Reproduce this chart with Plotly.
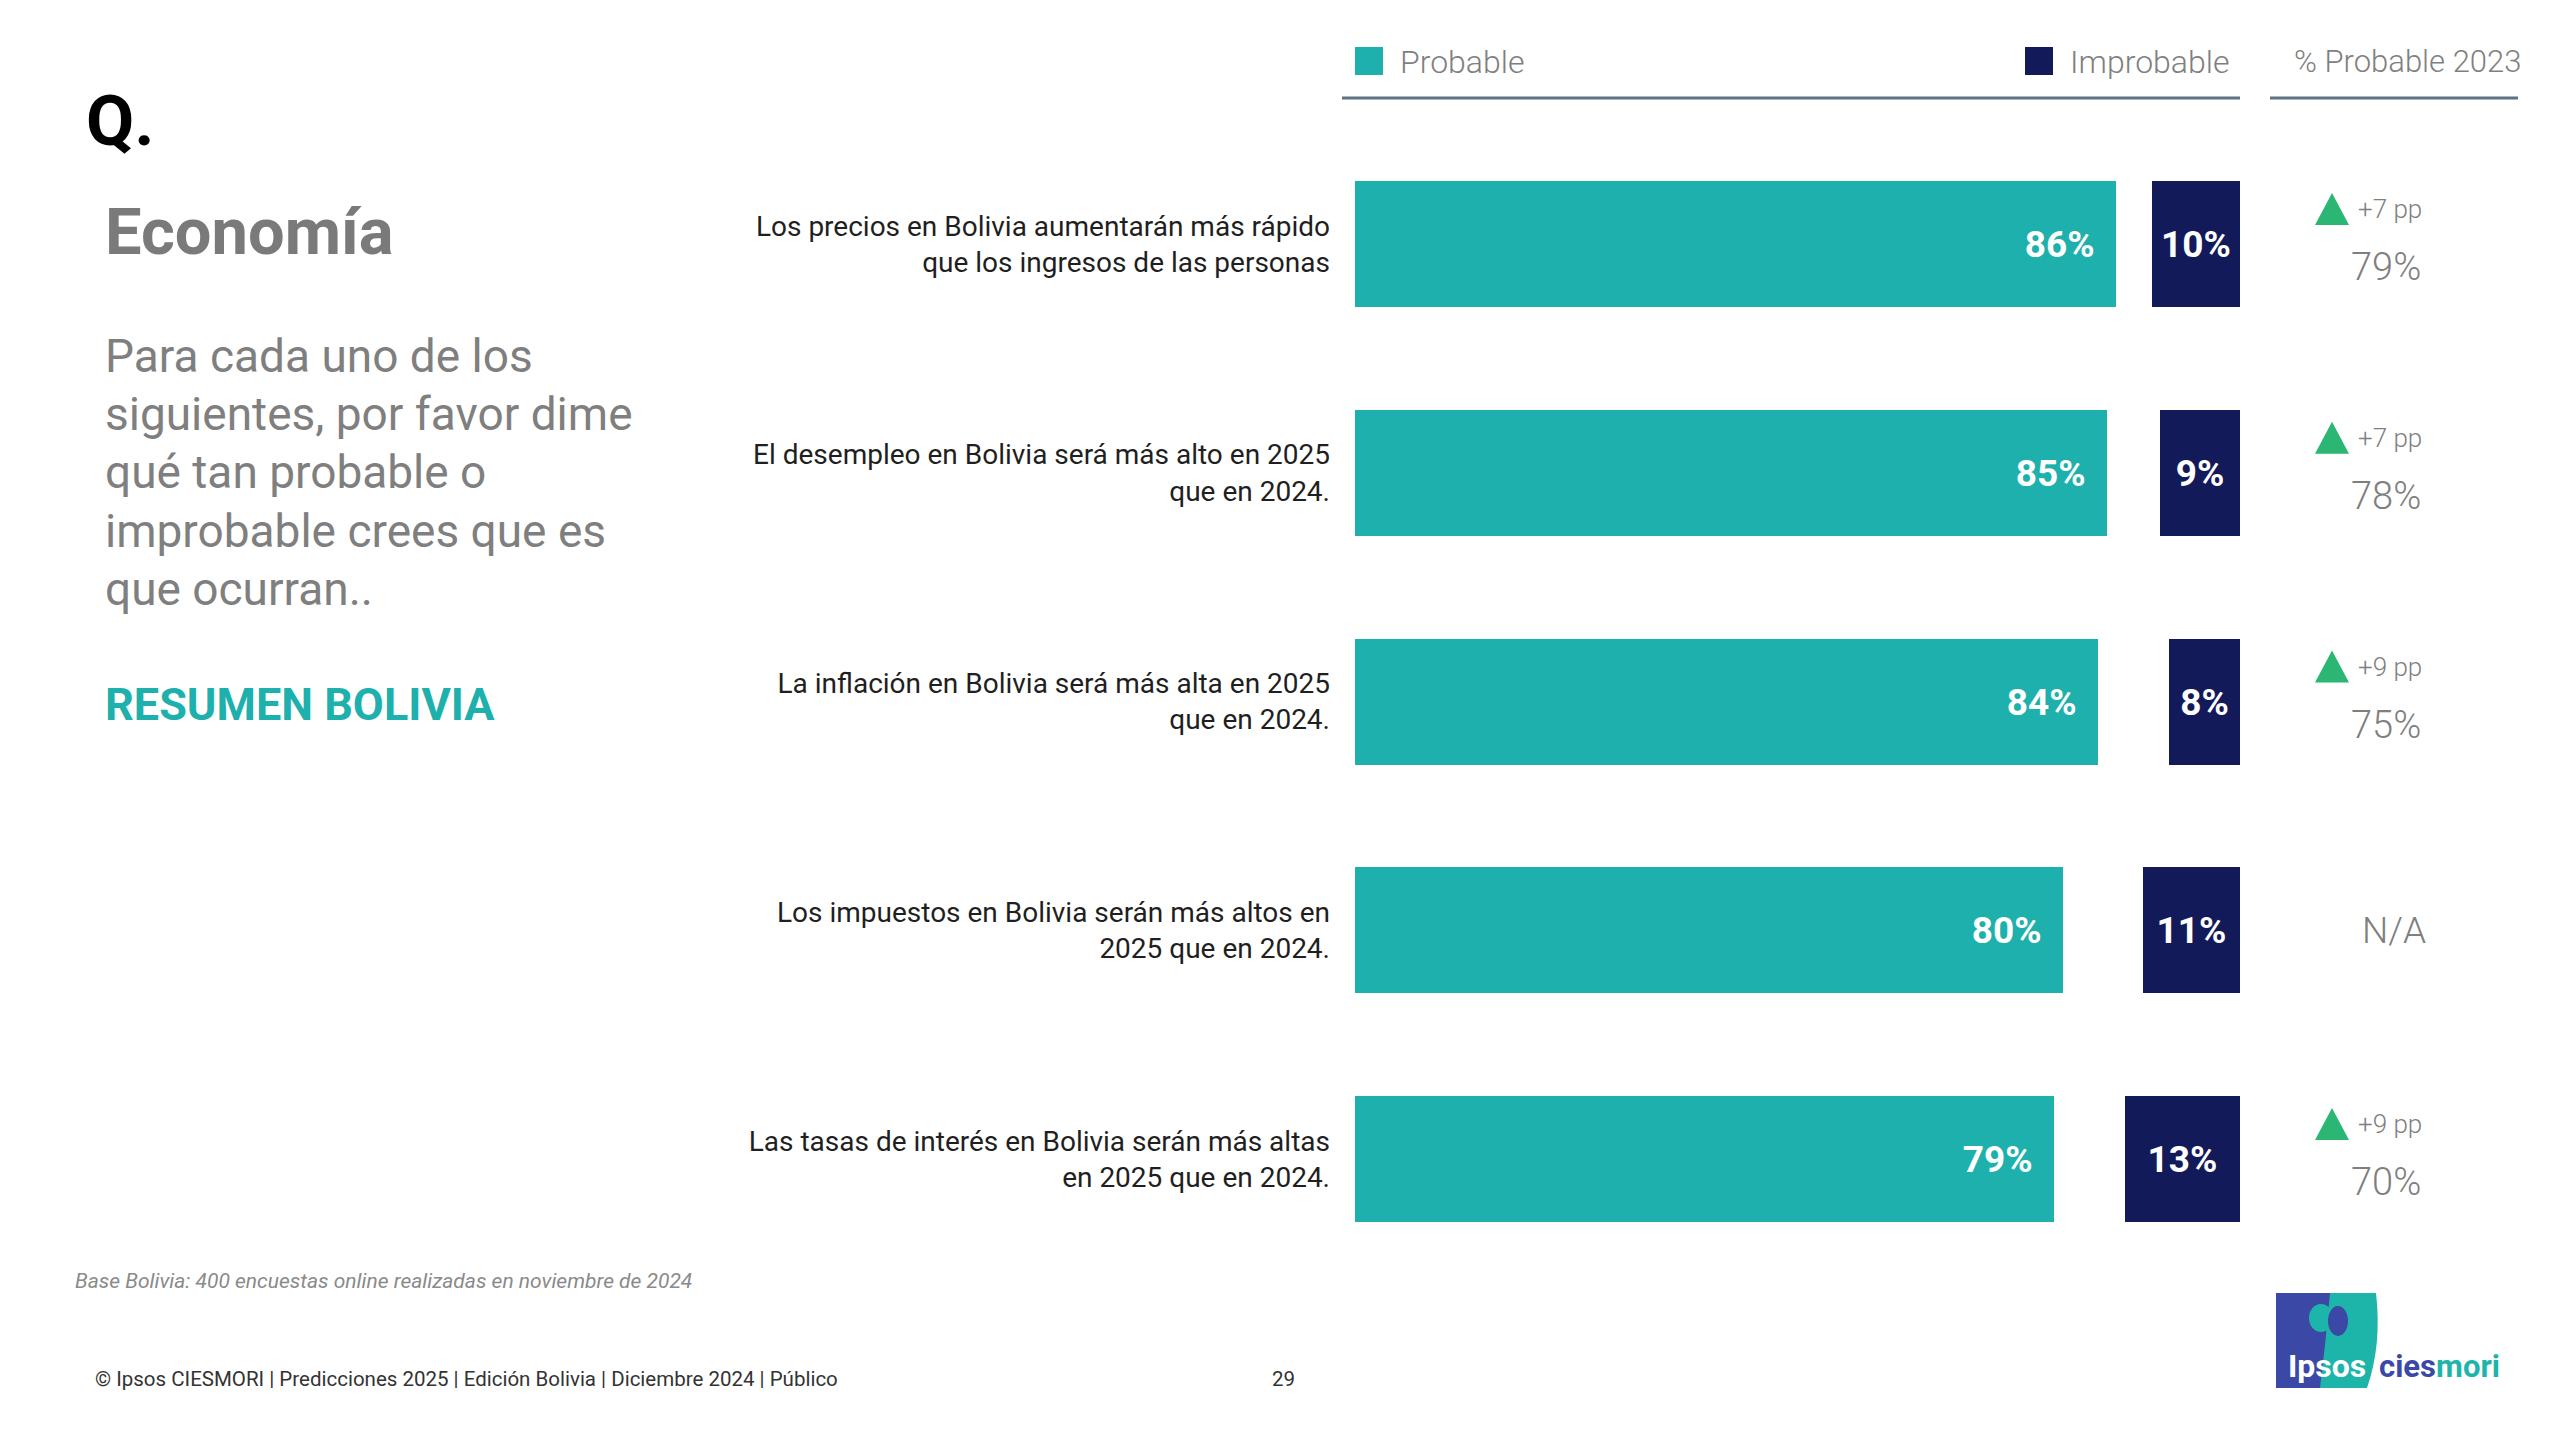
import plotly.graph_objects as go

W, H = 2560, 1440
OFF = 8  # page body margin offset compensation

categories = [
    "Los precios en Bolivia aumentarán más rápido<br>que los ingresos de las personas",
    "El desempleo en Bolivia será más alto en 2025<br>que en 2024.",
    "La inflación en Bolivia será más alta en 2025<br>que en 2024.",
    "Los impuestos en Bolivia serán más altos en<br>2025 que en 2024.",
    "Las tasas de interés en Bolivia serán más altas<br>en 2025 que en 2024.",
]
probable = [86, 85, 84, 80, 79]
improbable = [10, 9, 8, 11, 13]
probable_2023 = ["79%", "78%", "75%", "N/A", "70%"]
change_pp = ["+7 pp", "+7 pp", "+9 pp", None, "+9 pp"]

TEAL = "#1eb0ac"
NAVY = "#131a5a"
GREEN = "#2bb673"
GREY = "#7f7f7f"
FONT = "Roboto"

def px(x):
    return (x - OFF) / W

def py(y):
    return 1 - (y - OFF) / H

idx = list(range(len(categories)))
row0, step = 244 - OFF, 228.75
yrange = [(H - row0) / step, -row0 / step]
bar_w = 126 / step

fig = go.Figure()
fig.add_trace(go.Bar(
    y=idx, x=probable, base=0, orientation="h", width=bar_w,
    marker=dict(color=TEAL, line=dict(width=0)),
    text=[f"<b>{v}%</b>\u00a0\u00a0" for v in probable],
    textposition="inside", insidetextanchor="end", textangle=0,
    textfont=dict(family=FONT, size=37, color="white"),
    constraintext="none", name="Probable", showlegend=False,
))
fig.add_trace(go.Bar(
    y=idx, x=improbable, base=[100 - v for v in improbable], orientation="h", width=bar_w,
    marker=dict(color=NAVY, line=dict(width=0)),
    text=[f"<b>{v}%</b>" for v in improbable],
    textposition="inside", insidetextanchor="middle", textangle=0,
    textfont=dict(family=FONT, size=37, color="white"),
    constraintext="none", name="Improbable", showlegend=False,
))

ann = []
shapes = []

# Left panel text
ann.append(dict(x=px(84), y=py(121), xref="paper", yref="paper", text="<b>Q.</b>",
                showarrow=False, xanchor="left", yanchor="middle",
                font=dict(family=FONT, size=70, color="#000000")))
ann.append(dict(x=px(103), y=py(232), xref="paper", yref="paper", text="<b>Economía</b>",
                showarrow=False, xanchor="left", yanchor="middle",
                font=dict(family=FONT, size=65, color="#7a7a7a")))
para = ["Para cada uno de los", "siguientes, por favor dime", "qué tan probable o",
        "improbable crees que es", "que ocurran.."]
for k, line in enumerate(para):
    ann.append(dict(x=px(103), y=py(356 + k * 58.2), xref="paper", yref="paper", text=line,
                    showarrow=False, xanchor="left", yanchor="middle",
                    font=dict(family=FONT, size=46, color=GREY)))
ann.append(dict(x=px(103), y=py(704), xref="paper", yref="paper", text="<b>RESUMEN BOLIVIA</b>",
                showarrow=False, xanchor="left", yanchor="middle",
                font=dict(family=FONT, size=45, color=TEAL)))

# Legend header
shapes.append(dict(type="rect", xref="paper", yref="paper", x0=px(1355), x1=px(1383),
                   y0=py(75), y1=py(47), fillcolor=TEAL, line=dict(width=0)))
ann.append(dict(x=px(1398), y=py(62), xref="paper", yref="paper", text="Probable",
                showarrow=False, xanchor="left", yanchor="middle",
                font=dict(family=FONT, size=32, color=GREY, weight=300)))
shapes.append(dict(type="rect", xref="paper", yref="paper", x0=px(2025), x1=px(2053),
                   y0=py(75), y1=py(47), fillcolor=NAVY, line=dict(width=0)))
ann.append(dict(x=px(2068), y=py(62), xref="paper", yref="paper", text="Improbable",
                showarrow=False, xanchor="left", yanchor="middle",
                font=dict(family=FONT, size=32, color=GREY, weight=300)))
ann.append(dict(x=px(2292), y=py(62), xref="paper", yref="paper", text="% Probable 2023",
                showarrow=False, xanchor="left", yanchor="middle",
                font=dict(family=FONT, size=31, color=GREY, weight=300)))
for x0, x1 in [(1342, 2240), (2270, 2518)]:
    shapes.append(dict(type="line", xref="paper", yref="paper", x0=px(x0), x1=px(x1),
                       y0=py(98), y1=py(98), line=dict(color="#5d7283", width=3)))

# Right column: 2023 comparison
for i, (val, ch) in enumerate(zip(probable_2023, change_pp)):
    if ch is None:
        ann.append(dict(x=px(2394), y=i, xref="paper", yref="y", text=val,
                        showarrow=False, xanchor="center", yanchor="middle",
                        font=dict(family=FONT, size=37, color=GREY, weight=300)))
        continue
    shapes.append(dict(type="path", xref="paper", yref="y",
                       xsizemode="pixel", ysizemode="pixel",
                       xanchor=px(2332), yanchor=i - 35 / step,
                       path="M-17,-16 L17,-16 L0,16 Z",
                       fillcolor=GREEN, line=dict(width=0)))
    ann.append(dict(x=px(2356), y=i - 35 / step, xref="paper", yref="y", text=ch,
                    showarrow=False, xanchor="left", yanchor="middle",
                    font=dict(family=FONT, size=26, color=GREY, weight=300)))
    ann.append(dict(x=px(2386), y=i + 23 / step, xref="paper", yref="y", text=val,
                    showarrow=False, xanchor="center", yanchor="middle",
                    font=dict(family=FONT, size=38, color=GREY, weight=300)))

# Footer
ann.append(dict(x=px(73), y=py(1281), xref="paper", yref="paper",
                text="<i>Base Bolivia: 400 encuestas online realizadas en noviembre de 2024</i>",
                showarrow=False, xanchor="left", yanchor="middle",
                font=dict(family=FONT, size=21, color="#8a8a8a")))
ann.append(dict(x=px(93), y=py(1379), xref="paper", yref="paper",
                text="© Ipsos CIESMORI | Predicciones 2025 | Edición Bolivia | Diciembre 2024 | Público",
                showarrow=False, xanchor="left", yanchor="middle",
                font=dict(family=FONT, size=20.5, color="#333333")))
ann.append(dict(x=px(1283), y=py(1379), xref="paper", yref="paper", text="29",
                showarrow=False, xanchor="center", yanchor="middle",
                font=dict(family=FONT, size=20.5, color="#333333")))

# Logo
LBLUE = "#3b48a6"
LTEAL = "#1db5a9"
shapes.append(dict(type="rect", xref="paper", yref="paper", x0=px(2276), x1=px(2332),
                   y0=py(1388), y1=py(1293), fillcolor=LBLUE, line=dict(width=0)))
teal_path = (f"M{px(2330)},{py(1293)} L{px(2376)},{py(1293)} "
             f"Q{px(2382)},{py(1345)} {px(2367)},{py(1388)} "
             f"L{px(2320)},{py(1388)} Q{px(2326)},{py(1340)} {px(2330)},{py(1293)} Z")
shapes.append(dict(type="path", xref="paper", yref="paper", path=teal_path,
                   fillcolor=LTEAL, line=dict(width=0)))
shapes.append(dict(type="circle", xref="paper", yref="paper", x0=px(2309), x1=px(2333),
                   y0=py(1332), y1=py(1304), fillcolor=LTEAL, line=dict(width=0)))
shapes.append(dict(type="circle", xref="paper", yref="paper", x0=px(2328), x1=px(2348),
                   y0=py(1336), y1=py(1306), fillcolor=LBLUE, line=dict(width=0)))
ann.append(dict(x=px(2286), y=py(1366), xref="paper", yref="paper", text="<b>Ipsos</b>",
                showarrow=False, xanchor="left", yanchor="middle",
                font=dict(family=FONT, size=32, color="white")))
ann.append(dict(x=px(2377), y=py(1366), xref="paper", yref="paper",
                text=f"<b><span style='color:{LBLUE}'>cies</span><span style='color:{LTEAL}'>mori</span></b>",
                showarrow=False, xanchor="left", yanchor="middle",
                font=dict(family=FONT, size=31, color=LBLUE)))

fig.update_layout(
    width=W, height=H,
    margin=dict(l=0, r=0, t=0, b=0),
    paper_bgcolor="white", plot_bgcolor="white",
    barmode="overlay", bargap=0,
    showlegend=False,
    xaxis=dict(domain=[px(1355), px(2240)], range=[0, 100], visible=False, fixedrange=True),
    yaxis=dict(domain=[0, 1], range=yrange, tickmode="array", tickvals=idx, ticktext=categories,
               showgrid=False, zeroline=False, showline=False, ticks="", ticklabelstandoff=24,
               tickfont=dict(family=FONT, size=28, color="#1f1f1f")),
    annotations=ann,
    shapes=shapes,
    font=dict(family=FONT),
)

fig.write_html("out.html")
